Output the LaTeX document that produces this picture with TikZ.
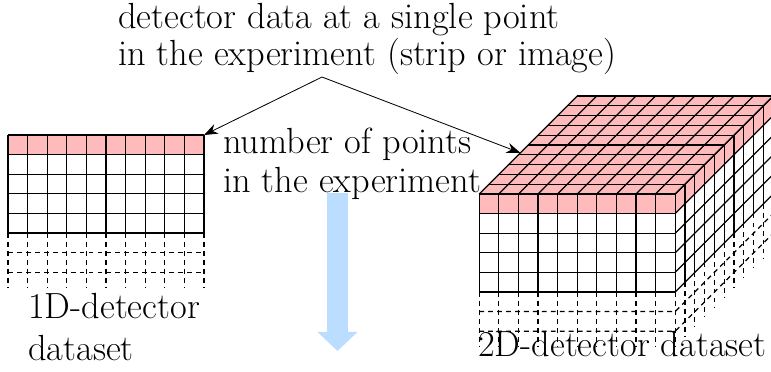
\documentclass[tikz,border=0pt]{standalone}
\usepackage{fontspec}
\usepackage{tikz}
\usetikzlibrary{arrows.meta}
\definecolor{cellpink}{RGB}{255,187,187}
\definecolor{flowblue}{RGB}{187,221,255}
\tikzset{
  gridline/.style={line width=0.9pt},
  dashline/.style={line width=0.9pt, dash pattern=on 3.5pt off 3pt},
  parrow/.style={-{Stealth[length=10pt,width=7.5pt]}, line width=0.6pt},
  flowarrow/.style={draw=flowblue, line width=0.536cm, -{Triangle[length=0.49cm,width=1.0cm]}},
  lbl/.style={inner sep=0pt, anchor=base west, align=left, font=\fontsize{26.4}{#1}\selectfont},
  lbl/.default=28
}

\begin{document}
\begin{tikzpicture}[x=0.5cm, y=0.5cm]
  \useasboundingbox (0,0) rectangle (39.34,18.98);

  \begin{scope}[shift={(0.41,7.09)}]
    \fill[cellpink] (0,4) rectangle (10,5);
    \foreach \i in {0,...,10}
      \draw[gridline] (\i,0) -- ++(0,5);
    \foreach \j in {0,...,5}
      \draw[gridline] (0,\j) -- ++(10,0);
    \foreach \i in {0,...,10}
      \draw[dashline] (\i,0) -- ++(0,-2.75);
    \foreach \j in {1,2}
      \draw[dashline] (0,-\j) -- (10,-\j);
    \coordinate (strip) at (10,5);
  \end{scope}

  \begin{scope}[shift={(24.45,4.08)}]
    \fill[cellpink] (0,4) rectangle (10,5);
    \fill[cellpink] (0,5) -- (10,5) -- (15,10) -- (5,10) -- cycle;
    \fill[cellpink] (10,4) -- (15,9) -- (15,10) -- (10,5) -- cycle;
    \foreach \i in {0,...,10}
      \draw[gridline] (\i,0) -- ++(0,5);
    \foreach \j in {0,...,5}
      \draw[gridline] (0,\j) -- ++(10,0);
    \foreach \k in {0,...,10}
      \draw[gridline] (0.5*\k,5+0.5*\k) -- ++(10,0);
    \foreach \i in {0,...,10}
      \draw[gridline] (\i,5) -- ++(5,5);
    \foreach \k in {0,...,10}
      \draw[gridline] (10+0.5*\k,0.5*\k) -- ++(0,5);
    \foreach \j in {0,...,5}
      \draw[gridline] (10,\j) -- ++(5,5);
    \foreach \i in {0,...,10}
      \draw[dashline] (\i,0) -- ++(0,-2.75);
    \foreach \k in {1,...,10}
      \draw[dashline] (10+0.5*\k,0.5*\k) -- ++(0,-2.75);
    \foreach \j in {1,2}
      \draw[dashline] (0,-\j) -- (10,-\j) -- ++(5,5);
    \coordinate (image) at (2.1,7.1);
  \end{scope}

  \coordinate (flowtop) at (17.22,9.13);
  \coordinate (flowend) at (17.22,1.07);
  \draw[flowarrow] (flowtop) -- (flowend);

  \node[lbl=26.9] (caption) at (6.02,15.66) {detector data at a single point\\in the experiment (strip or image)};
  \node[lbl=28.3] (points) at (11.38,9.18) {number of points\\in the experiment};
  \node[lbl=30.5] (onedim) at (1.43,0.61) {1D-detector\\dataset};
  \node[lbl] (twodim) at (24.39,0.77) {2D-detector dataset};

  \coordinate (apex) at (16.43,15.05);
  \draw[parrow] (apex) -- (strip);
  \draw[parrow] (apex) -- (image);
\end{tikzpicture}
\end{document}
